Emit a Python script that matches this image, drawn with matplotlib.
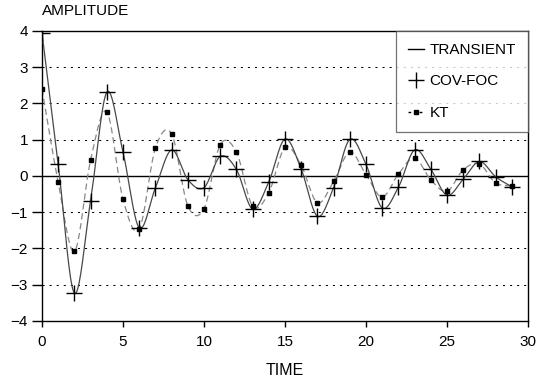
import numpy as np
import matplotlib
matplotlib.use("Agg")
import matplotlib.pyplot as plt
from matplotlib.lines import Line2D

plt.rcParams['font.family'] = ['Liberation Sans', 'DejaVu Sans']

time = list(range(30))
cov_foc = [3.95, 0.33, -3.23, -0.68, 2.31, 0.66, -1.43, -0.33, 0.72, -0.10,
           -0.32, 0.54, 0.18, -0.91, -0.16, 1.02, 0.19, -1.11, -0.32, 1.01,
           0.32, -0.88, -0.31, 0.72, 0.19, -0.53, -0.09, 0.40, -0.02, -0.30]
transient = cov_foc  # smooth curve passes through the same samples
kt = [2.40, -0.17, -2.08, 0.44, 1.77, -0.64, -1.47, 0.77, 1.16, -0.82,
      -0.90, 0.86, 0.66, -0.83, -0.46, 0.79, 0.29, -0.74, -0.15, 0.66,
      0.04, -0.58, 0.05, 0.50, -0.11, -0.42, 0.17, 0.33, -0.19, -0.27]
x_ticks = [0, 5, 10, 15, 20, 25, 30]
y_ticks = [-4, -3, -2, -1, 0, 1, 2, 3, 4]


def smooth(x, y, n=20):
    """Catmull-Rom rendering of a smoothed line through the samples."""
    x = np.asarray(x, float)
    y = np.asarray(y, float)
    px = np.concatenate([[2 * x[0] - x[1]], x, [2 * x[-1] - x[-2]]])
    py = np.concatenate([[2 * y[0] - y[1]], y, [2 * y[-1] - y[-2]]])
    xs, ys = [], []
    t = np.linspace(0, 1, n, endpoint=False)
    for i in range(1, len(px) - 2):
        f = lambda a0, a1, a2, a3: 0.5 * ((2 * a1) + (-a0 + a2) * t +
                                          (2 * a0 - 5 * a1 + 4 * a2 - a3) * t ** 2 +
                                          (-a0 + 3 * a1 - 3 * a2 + a3) * t ** 3)
        xs.append(f(px[i - 1], px[i], px[i + 1], px[i + 2]))
        ys.append(f(py[i - 1], py[i], py[i + 1], py[i + 2]))
    xs.append([x[-1]])
    ys.append([y[-1]])
    return np.concatenate(xs), np.concatenate(ys)


W, H = 558, 381
fig = plt.figure(figsize=(W / 100, H / 100), dpi=100)
L, R, T, B = 42, 528, 31, 321
ax = fig.add_axes([L / W, 1 - B / H, (R - L) / W, (B - T) / H])

for yv in y_ticks:
    if yv in (-4, 0, 4):
        continue
    ax.axhline(yv, color='black', lw=0.75, ls=(0, (2, 4.8)), zorder=1)
ax.axhline(0, color='black', lw=1.0, zorder=1)

sx, sy = smooth(time, transient)
ax.plot(sx, sy, color='#484848', lw=0.9, zorder=3)
kx, ky = smooth(time, kt)
ax.plot(kx, ky, color='#888888', lw=0.9, ls=(0, (5, 3)), zorder=2)
ax.plot(time, kt, ls='none', marker='s', ms=2.5, color='black', zorder=4)
ax.plot(time, cov_foc, ls='none', marker='+', ms=11, mew=1.0, color='black', zorder=5)

ax.set_xlim(0, 30)
ax.set_ylim(-4, 4)
ax.set_xticks(x_ticks)
ax.set_yticks(y_ticks)
ax.tick_params(axis='both', direction='out', width=1, labelsize=11, colors='black')
ax.tick_params(axis='y', length=7.5, pad=2.5)
ax.tick_params(axis='x', length=4.5, pad=5.5)
for s in ax.spines.values():
    s.set_linewidth(1.0)

fig.text(0.5 * (L + R) / W, 1 - 375 / H, 'TIME', fontsize=11.5, ha='center', va='baseline')
fig.text(L / W, 1 - 15 / H, 'AMPLITUDE', fontsize=11, ha='left', va='baseline')

handles = [
    Line2D([], [], color='black', lw=1.0),
    Line2D([], [], ls='none', marker='+', ms=11, mew=1.0, color='black'),
    Line2D([], [], color='black', lw=1.0, ls=(0, (2, 2)), marker='s', ms=2.5),
]
leg = ax.legend(handles, ['TRANSIENT', 'COV-FOC', 'KT'], loc='upper right',
                bbox_to_anchor=(1.0, 1.0), fontsize=11, frameon=True, fancybox=False,
                edgecolor='#505050', handlelength=1.05, handletextpad=0.35,
                borderpad=0.78, labelspacing=1.15, borderaxespad=0)
leg.get_frame().set_linewidth(0.9)
leg.set_zorder(10)

fig.savefig('out.png', dpi=100)
